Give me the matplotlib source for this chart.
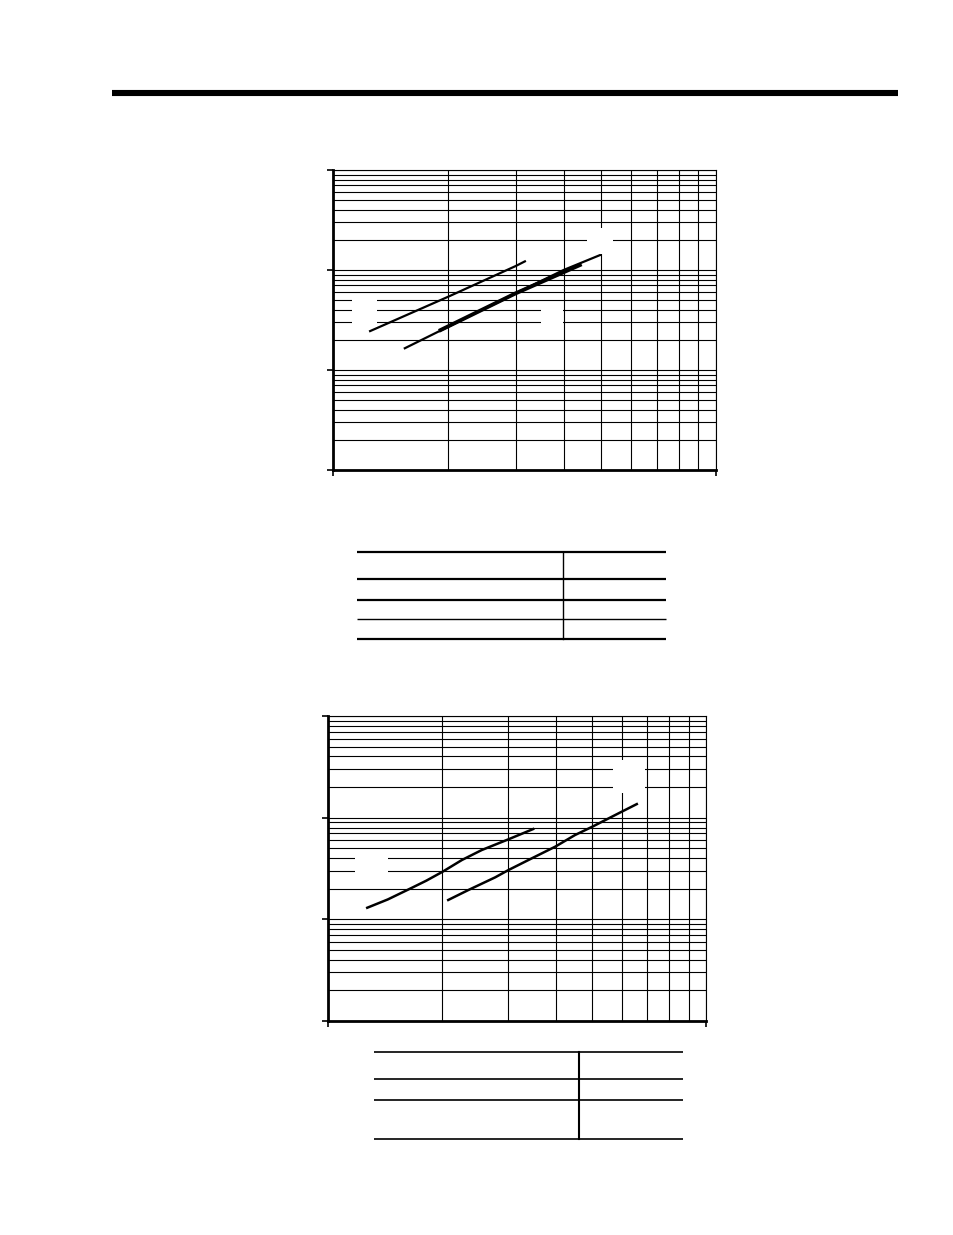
import numpy as np
import matplotlib.pyplot as plt
from matplotlib.patches import Rectangle
from matplotlib.ticker import LogLocator, NullFormatter, FixedLocator

# upper chart, two curves (log-log, x one decade, y three decades)
top_a_x = [1.25, 2.0, 3.0, 3.17]
top_a_y = [24.5, 54.1, 109.6, 122.0]
top_b_x = [1.54, 2.0, 3.0, 4.0, 4.98]
top_b_y = [16.5, 27.1, 58.5, 100.0, 141.0]
# retraced (thicker) middle part of the lower curve
top_b2_x = [1.91, 3.0, 4.41]
top_b2_y = [25.1, 58.5, 112.0]

# lower chart, two curves
bot_c_x = [1.27, 1.44, 1.67, 1.82, 2.01, 2.26, 2.55, 3.0, 3.49]
bot_c_y = [13.0, 15.7, 20.5, 24.0, 29.4, 38.3, 48.0, 61.2, 77.3]
bot_d_x = [2.08, 2.35, 2.77, 3.0, 3.46, 3.99, 4.5, 5.0, 5.98, 6.56]
bot_d_y = [15.5, 19.4, 25.9, 30.5, 39.8, 51.8, 67.4, 81.4, 114.3, 136.0]

W, H = 954, 1235
fig = plt.figure(figsize=(W / 100, H / 100), dpi=100)


def px_box(l, t, r, b):
    return [l / W, 1 - b / H, (r - l) / W, (b - t) / H]


def log_chart(rect):
    ax = fig.add_axes(rect)
    ax.set_xscale('log')
    ax.set_yscale('log')
    ax.set_xlim(1, 10)
    ax.set_ylim(1, 1000)
    ax.xaxis.set_major_locator(FixedLocator([1, 10]))
    ax.xaxis.set_minor_locator(LogLocator(base=10, subs=np.arange(2, 10)))
    ax.yaxis.set_major_locator(LogLocator(base=10))
    ax.yaxis.set_minor_locator(LogLocator(base=10, subs=np.arange(2, 10)))
    ax.xaxis.set_major_formatter(NullFormatter())
    ax.xaxis.set_minor_formatter(NullFormatter())
    ax.yaxis.set_major_formatter(NullFormatter())
    ax.yaxis.set_minor_formatter(NullFormatter())
    ax.grid(True, which='both', color='black', lw=0.8)
    ax.tick_params(which='major', direction='out', length=4, width=1.2, color='black')
    ax.tick_params(which='minor', length=0)
    for s in ['left', 'bottom']:
        ax.spines[s].set_linewidth(2)
    for s in ['top', 'right']:
        ax.spines[s].set_linewidth(0.8)
    return ax


ax1 = log_chart(px_box(333, 170, 716, 470))
ax1.plot(top_a_x, top_a_y, color='black', lw=1.6, zorder=5)
ax1.plot(top_b_x, top_b_y, color='black', lw=1.6, zorder=5)
ax1.plot(top_b2_x, top_b2_y, color='black', lw=2.8, zorder=5)

ax2 = log_chart(px_box(328, 716, 706, 1021))
ax2.plot(bot_c_x, bot_c_y, color='black', lw=1.8, zorder=5)
ax2.plot(bot_d_x, bot_d_y, color='black', lw=1.8, zorder=5)

# page overlay in pixel units: rules, tables, blanked label boxes
page = fig.add_axes([0, 0, 1, 1], zorder=10)
page.set_xlim(0, W)
page.set_ylim(H, 0)
page.axis('off')
page.patch.set_alpha(0)

page.plot([112, 898], [93, 93], color='black', lw=4.4, solid_capstyle='butt')

# label boxes (text blanked)
for l, t, r, b in [(352, 295, 377, 327), (541, 303, 563, 330), (587, 228, 613, 254),
                   (355, 852, 388, 878), (613, 760, 645, 793)]:
    page.add_patch(Rectangle((l, t), r - l, b - t, facecolor='white', edgecolor='none'))

# table 1
for y, w in [(552, 1.6), (579, 1.6), (600, 1.6), (619, 1.0), (639, 1.6)]:
    page.plot([357, 666], [y, y], color='black', lw=w, solid_capstyle='butt')
page.plot([563, 563], [552, 639], color='black', lw=1.0)

# table 2
for y in [1052, 1079, 1100, 1139]:
    page.plot([374, 683], [y, y], color='black', lw=1.2, solid_capstyle='butt')
page.plot([579, 579], [1052, 1139], color='black', lw=1.5)

fig.savefig('out.png', dpi=100, facecolor='white')
